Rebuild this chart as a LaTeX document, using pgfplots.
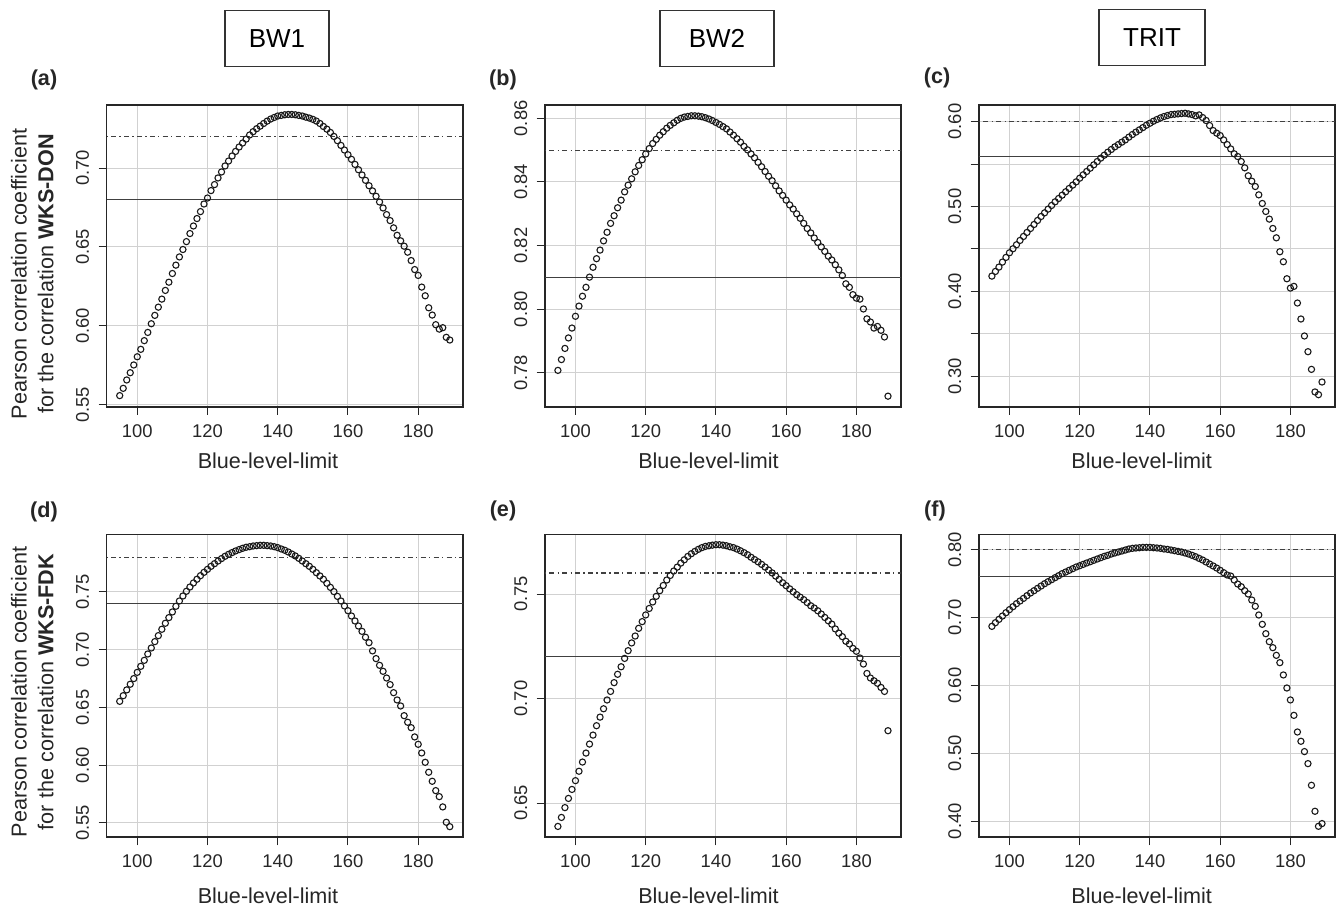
\documentclass[border=0pt]{standalone}
\usepackage{pgfplots}
\pgfplotsset{compat=1.18}
\usepackage{fontspec}
\setmainfont{Liberation Sans}
\pgfplotsset{
  panel/.style={
    scale only axis, width=178.25pt,
    xmin=91.24, xmax=192.76,
    xtick={100,120,140,160,180}, xticklabels={100,120,140,160,180},
    xtick pos=bottom, ytick pos=left, tick align=outside,
    major tick length=4pt,
    every tick/.style={black!85, line width=0.5pt},
    grid=major, major grid style={black!18, line width=0.5pt},
    axis line style={black!85, line width=0.8pt},
    /pgf/number format/assume math mode=true,
    ticklabel style={font=\fontsize{9.2}{11}\selectfont, text=black!85},
    xticklabel style={anchor=center, yshift=-8pt},
    yticklabel style={rotate=90, anchor=center, yshift=8pt},
  },
  pts/.style={only marks, mark=o, mark size=1.55pt, black!90, mark options={line width=0.55pt}},
  solidref/.style={black!75, line width=0.65pt},
  ddref/.style={black!75, line width=0.65pt, dash pattern=on 0.65pt off 1.65pt on 2.5pt off 1.65pt},
}
\begin{document}
\begin{tikzpicture}
\path[use as bounding box] (0,0) rectangle (670pt,454pt);

% (a)
\begin{axis}[panel, height=151pt, at={(53.25pt,250.5pt)}, anchor=south west,
  ymin=0.5487, ymax=0.7399, ytick={0.55,0.60,0.65,0.70}, yticklabels={0.55,0.60,0.65,0.70}]
\addplot[ddref] coordinates {(91.24,0.720) (192.76,0.720)};
\addplot[solidref] coordinates {(91.24,0.680) (192.76,0.680)};
\addplot[pts] table {
95 0.5559
96 0.5605
97 0.5658
98 0.5704
99 0.5753
100 0.5805
101 0.5852
102 0.5907
103 0.5959
104 0.6014
105 0.6067
106 0.6119
107 0.6170
108 0.6225
109 0.6277
110 0.6332
111 0.6385
112 0.6437
113 0.6484
114 0.6534
115 0.6585
116 0.6633
117 0.6680
118 0.6724
119 0.6772
120 0.6810
121 0.6857
122 0.6895
123 0.6937
124 0.6975
125 0.7013
126 0.7044
127 0.7076
128 0.7105
129 0.7133
130 0.7158
131 0.7183
132 0.7209
133 0.7230
134 0.7249
135 0.7265
136 0.7282
137 0.7297
138 0.7310
139 0.7320
140 0.7329
141 0.7333
142 0.7337
143 0.7339
144 0.7339
145 0.7337
146 0.7333
147 0.7329
148 0.7322
149 0.7316
150 0.7308
151 0.7297
152 0.7282
153 0.7263
154 0.7246
155 0.7225
156 0.7200
157 0.7173
158 0.7143
159 0.7114
160 0.7084
161 0.7055
162 0.7023
163 0.6989
164 0.6956
165 0.6922
166 0.6888
167 0.6855
168 0.6821
169 0.6785
170 0.6747
171 0.6705
172 0.6667
173 0.6621
174 0.6574
175 0.6539
176 0.6505
177 0.6467
178 0.6414
179 0.6357
180 0.6320
181 0.6246
182 0.6191
183 0.6115
184 0.6069
185 0.6008
186 0.5980
187 0.5989
188 0.5928
189 0.5911
};
\end{axis}

% (b)
\begin{axis}[panel, height=151pt, at={(272.35pt,250.5pt)}, anchor=south west,
  ymin=0.7693, ymax=0.8642, ytick={0.78,0.80,0.82,0.84,0.86}, yticklabels={0.78,0.80,0.82,0.84,0.86}]
\addplot[ddref] coordinates {(91.24,0.850) (192.76,0.850)};
\addplot[solidref] coordinates {(91.24,0.810) (192.76,0.810)};
\addplot[pts] table {
95 0.7808
96 0.7842
97 0.7877
98 0.7910
99 0.7941
100 0.7978
101 0.8010
102 0.8041
103 0.8069
104 0.8101
105 0.8132
106 0.8159
107 0.8186
108 0.8215
109 0.8242
110 0.8270
111 0.8294
112 0.8319
113 0.8343
114 0.8369
115 0.8390
116 0.8410
117 0.8432
118 0.8452
119 0.8470
120 0.8488
121 0.8505
122 0.8521
123 0.8534
124 0.8547
125 0.8558
126 0.8569
127 0.8578
128 0.8586
129 0.8594
130 0.8600
131 0.8604
132 0.8606
133 0.8608
134 0.8608
135 0.8607
136 0.8605
137 0.8602
138 0.8598
139 0.8593
140 0.8587
141 0.8581
142 0.8574
143 0.8567
144 0.8557
145 0.8547
146 0.8536
147 0.8525
148 0.8512
149 0.8501
150 0.8488
151 0.8476
152 0.8462
153 0.8448
154 0.8433
155 0.8418
156 0.8404
157 0.8388
158 0.8372
159 0.8358
160 0.8343
161 0.8328
162 0.8315
163 0.8300
164 0.8286
165 0.8270
166 0.8254
167 0.8240
168 0.8224
169 0.8210
170 0.8196
171 0.8182
172 0.8167
173 0.8155
174 0.8140
175 0.8124
176 0.8106
177 0.8080
178 0.8069
179 0.8046
180 0.8035
181 0.8032
182 0.8001
183 0.7970
184 0.7960
185 0.7941
186 0.7946
187 0.7934
188 0.7913
189 0.7727
};
\end{axis}

% (c)
\begin{axis}[panel, height=151pt, at={(489.35pt,250.5pt)}, anchor=south west,
  ymin=0.2639, ymax=0.6195, ytick={0.30,0.35,0.40,0.45,0.50,0.55,0.60}, yticklabels={0.30,,0.40,,0.50,,0.60}]
\addplot[ddref] coordinates {(91.24,0.600) (192.76,0.600)};
\addplot[solidref] coordinates {(91.24,0.559) (192.76,0.559)};
\addplot[pts] table {
95 0.4180
96 0.4235
97 0.4286
98 0.4345
99 0.4400
100 0.4455
101 0.4502
102 0.4549
103 0.4600
104 0.4647
105 0.4694
106 0.4741
107 0.4788
108 0.4835
109 0.4882
110 0.4925
111 0.4969
112 0.5012
113 0.5055
114 0.5094
115 0.5133
116 0.5173
117 0.5212
118 0.5251
119 0.5290
120 0.5333
121 0.5373
122 0.5412
123 0.5451
124 0.5490
125 0.5529
126 0.5569
127 0.5604
128 0.5639
129 0.5671
130 0.5702
131 0.5729
132 0.5757
133 0.5784
134 0.5816
135 0.5847
136 0.5875
137 0.5902
138 0.5929
139 0.5957
140 0.5980
141 0.6004
142 0.6024
143 0.6043
144 0.6059
145 0.6071
146 0.6082
147 0.6086
148 0.6090
149 0.6094
150 0.6098
151 0.6090
152 0.6082
153 0.6067
154 0.6078
155 0.6047
156 0.6012
157 0.5953
158 0.5894
159 0.5863
160 0.5835
161 0.5784
162 0.5729
163 0.5678
164 0.5620
165 0.5588
166 0.5529
167 0.5455
168 0.5361
169 0.5298
170 0.5235
171 0.5137
172 0.5035
173 0.4941
174 0.4851
175 0.4741
176 0.4631
177 0.4467
178 0.4349
179 0.4149
180 0.4039
181 0.4059
182 0.3863
183 0.3675
184 0.3475
185 0.3290
186 0.3082
187 0.2816
188 0.2784
189 0.2933
};
\end{axis}

% (d)
\begin{axis}[panel, height=151.3pt, at={(53.25pt,35.35pt)}, anchor=south west,
  ymin=0.5376, ymax=0.7996, ytick={0.55,0.60,0.65,0.70,0.75}, yticklabels={0.55,0.60,0.65,0.70,0.75}]
\addplot[ddref] coordinates {(91.24,0.780) (192.76,0.780)};
\addplot[solidref] coordinates {(91.24,0.740) (192.76,0.740)};
\addplot[pts] table {
95 0.6553
96 0.6602
97 0.6652
98 0.6701
99 0.6750
100 0.6804
101 0.6856
102 0.6908
103 0.6963
104 0.7015
105 0.7070
106 0.7122
107 0.7177
108 0.7229
109 0.7278
110 0.7327
111 0.7376
112 0.7422
113 0.7465
114 0.7506
115 0.7543
116 0.7578
117 0.7610
118 0.7641
119 0.7670
120 0.7696
121 0.7722
122 0.7745
123 0.7768
124 0.7789
125 0.7809
126 0.7826
127 0.7841
128 0.7855
129 0.7867
130 0.7878
131 0.7887
132 0.7892
133 0.7898
134 0.7901
135 0.7904
136 0.7904
137 0.7901
138 0.7898
139 0.7892
140 0.7884
141 0.7872
142 0.7861
143 0.7846
144 0.7829
145 0.7812
146 0.7791
147 0.7768
148 0.7745
149 0.7722
150 0.7696
151 0.7667
152 0.7639
153 0.7610
154 0.7575
155 0.7540
156 0.7503
157 0.7462
158 0.7422
159 0.7379
160 0.7338
161 0.7292
162 0.7249
163 0.7205
164 0.7159
165 0.7108
166 0.7061
167 0.6990
168 0.6923
169 0.6865
170 0.6813
171 0.6755
172 0.6698
173 0.6628
174 0.6565
175 0.6513
176 0.6429
177 0.6372
178 0.6325
179 0.6245
180 0.6181
181 0.6106
182 0.6025
183 0.5939
184 0.5861
185 0.5780
186 0.5728
187 0.5639
188 0.5506
189 0.5468
};
\end{axis}

% (e)
\begin{axis}[panel, height=151.3pt, at={(272.35pt,35.35pt)}, anchor=south west,
  ymin=0.6336, ymax=0.7784, ytick={0.65,0.70,0.75}, yticklabels={0.65,0.70,0.75}]
\addplot[ddref] coordinates {(91.24,0.760) (192.76,0.760)};
\addplot[solidref] coordinates {(91.24,0.720) (192.76,0.720)};
\addplot[pts] table {
95 0.6388
96 0.6431
97 0.6478
98 0.6522
99 0.6565
100 0.6607
101 0.6652
102 0.6696
103 0.6739
104 0.6782
105 0.6825
106 0.6870
107 0.6911
108 0.6951
109 0.6993
110 0.7034
111 0.7076
112 0.7116
113 0.7152
114 0.7192
115 0.7229
116 0.7266
117 0.7299
118 0.7336
119 0.7368
120 0.7400
121 0.7431
122 0.7462
123 0.7489
124 0.7516
125 0.7541
126 0.7567
127 0.7589
128 0.7610
129 0.7629
130 0.7648
131 0.7664
132 0.7680
133 0.7693
134 0.7704
135 0.7714
136 0.7722
137 0.7728
138 0.7731
139 0.7734
140 0.7736
141 0.7736
142 0.7734
143 0.7731
144 0.7726
145 0.7722
146 0.7715
147 0.7707
148 0.7698
149 0.7688
150 0.7676
151 0.7665
152 0.7654
153 0.7642
154 0.7629
155 0.7615
156 0.7601
157 0.7586
158 0.7570
159 0.7554
160 0.7540
161 0.7525
162 0.7511
163 0.7497
164 0.7485
165 0.7473
166 0.7459
167 0.7444
168 0.7433
169 0.7420
170 0.7404
171 0.7388
172 0.7372
173 0.7356
174 0.7333
175 0.7313
176 0.7296
177 0.7274
178 0.7261
179 0.7240
180 0.7226
181 0.7194
182 0.7165
183 0.7120
184 0.7098
185 0.7085
186 0.7073
187 0.7053
188 0.7034
189 0.6846
};
\end{axis}

% (f)
\begin{axis}[panel, height=151.3pt, at={(489.35pt,35.35pt)}, anchor=south west,
  ymin=0.3764, ymax=0.8221, ytick={0.40,0.50,0.60,0.70,0.80}, yticklabels={0.40,0.50,0.60,0.70,0.80}]
\addplot[ddref] coordinates {(91.24,0.800) (192.76,0.800)};
\addplot[solidref] coordinates {(91.24,0.760) (192.76,0.760)};
\addplot[pts] table {
95 0.6871
96 0.6925
97 0.6974
98 0.7023
99 0.7072
100 0.7117
101 0.7161
102 0.7205
103 0.7244
104 0.7283
105 0.7323
106 0.7362
107 0.7396
108 0.7431
109 0.7465
110 0.7499
111 0.7529
112 0.7558
113 0.7588
114 0.7617
115 0.7647
116 0.7671
117 0.7696
118 0.7720
119 0.7745
120 0.7764
121 0.7784
122 0.7804
123 0.7823
124 0.7843
125 0.7863
126 0.7882
127 0.7902
128 0.7917
129 0.7936
130 0.7951
131 0.7966
132 0.7980
133 0.7995
134 0.8010
135 0.8020
136 0.8025
137 0.8029
138 0.8034
139 0.8034
140 0.8034
141 0.8029
142 0.8025
143 0.8020
144 0.8010
145 0.8005
146 0.7995
147 0.7985
148 0.7975
149 0.7966
150 0.7951
151 0.7936
152 0.7917
153 0.7897
154 0.7872
155 0.7848
156 0.7818
157 0.7789
158 0.7760
159 0.7730
160 0.7696
161 0.7661
162 0.7627
163 0.7612
164 0.7553
165 0.7494
166 0.7455
167 0.7396
168 0.7347
169 0.7259
170 0.7166
171 0.7038
172 0.6901
173 0.6763
174 0.6645
175 0.6557
176 0.6444
177 0.6336
178 0.6155
179 0.5963
180 0.5787
181 0.5560
182 0.5315
183 0.5178
184 0.5026
185 0.4849
186 0.4530
187 0.4147
188 0.3926
189 0.3966
};
\end{axis}

% titles
\node[draw=black!80, line width=0.7pt, minimum width=52pt, minimum height=28pt, inner sep=0pt, font=\fontsize{13}{15}\selectfont] at (138.5pt,434.65pt) {BW1};
\node[draw=black!80, line width=0.7pt, minimum width=57pt, minimum height=28pt, inner sep=0pt, font=\fontsize{13}{15}\selectfont] at (358.5pt,434.65pt) {BW2};
\node[draw=black!80, line width=0.7pt, minimum width=53pt, minimum height=28pt, inner sep=0pt, font=\fontsize{13}{15}\selectfont] at (576pt,435.25pt) {TRIT};

% panel letters
\begin{scope}[every node/.style={font=\bfseries\fontsize{10.8}{13}\selectfont, text=black!85, inner sep=0pt}]
\node at (22pt,414pt) {(a)};
\node at (251.5pt,414pt) {(b)};
\node at (468.5pt,415pt) {(c)};
\node at (22pt,198pt) {(d)};
\node at (251.5pt,198.5pt) {(e)};
\node at (467.5pt,198.5pt) {(f)};
\end{scope}

% axis labels
\begin{scope}[every node/.style={font=\fontsize{10.8}{13}\selectfont, text=black!85, inner sep=0pt}]
\node[anchor=base] at (134pt,219.5pt) {Blue-level-limit};
\node[anchor=base] at (354.25pt,219.5pt) {Blue-level-limit};
\node[anchor=base] at (570.85pt,219.5pt) {Blue-level-limit};
\node[anchor=base] at (134pt,2pt) {Blue-level-limit};
\node[anchor=base] at (354.25pt,2pt) {Blue-level-limit};
\node[anchor=base] at (570.85pt,2pt) {Blue-level-limit};
\node[rotate=90, anchor=base] at (13.35pt,317pt) {Pearson correlation coefficient};
\node[rotate=90, anchor=base] at (26.65pt,317pt) {for the correlation \textbf{WKS-DON}};
\node[rotate=90, anchor=base] at (13.35pt,108pt) {Pearson correlation coefficient};
\node[rotate=90, anchor=base] at (26.65pt,108pt) {for the correlation \textbf{WKS-FDK}};
\end{scope}
\end{tikzpicture}
\end{document}
